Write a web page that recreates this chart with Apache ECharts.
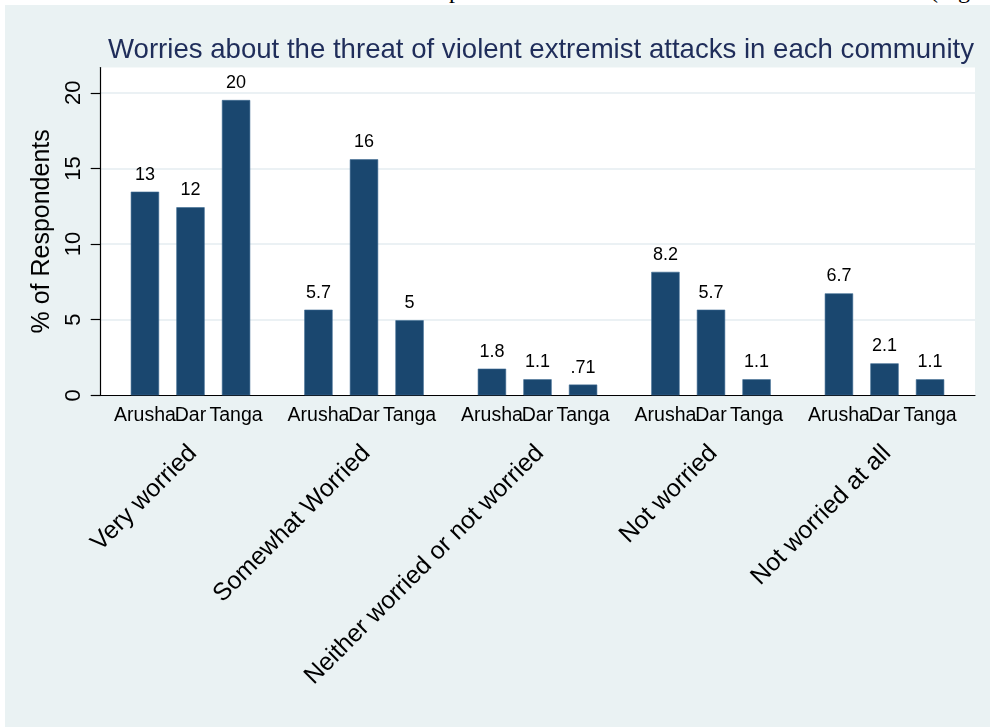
<!DOCTYPE html>
<html>
<head>
<meta charset="utf-8">
<script src="https://cdn.jsdelivr.net/npm/echarts@6/dist/echarts.min.js"></script>
<style>
  html, body { margin: 0; padding: 0; background: #ffffff; }
  #wrap { position: relative; width: 990px; height: 727px; overflow: hidden; background: #ffffff; }
  #bg { position: absolute; left: 5px; top: 5px; width: 985px; height: 722px; background: #EAF2F3; }
  #doc { position: absolute; left: 0; top: 0; width: 990px; height: 5px; overflow: hidden; font-family: "Liberation Serif", serif; font-size: 24px; color: #000; }
  #doc span { position: absolute; top: -23px; }
  #chart { position: absolute; left: 0; top: 0; width: 990px; height: 727px; }
</style>
</head>
<body>
<div id="wrap">
  <div id="bg"></div>
  <div id="doc"><span style="left:449px">p</span><span style="left:930px">(Fig</span></div>
  <div id="chart"></div>
</div>
<script>
// ---- data ----
const groups = ["Very worried", "Somewhat Worried", "Neither worried or not worried", "Not worried", "Not worried at all"];
const cities = ["Arusha", "Dar", "Tanga"];
const arusha = [13.46, 5.66, 1.76, 8.16, 6.74];
const dar    = [12.43, 15.6, 1.06, 5.66, 2.11];
const tanga  = [19.52, 4.96, 0.71, 1.06, 1.06];
const yTicks = [0, 5, 10, 15, 20];
const titleText = "Worries about the threat of violent extremist attacks in each community";
const yName = "% of Respondents";

const seriesValues = [arusha, dar, tanga];
const barColor = "#1A476F";
const FONT = "'Liberation Sans', Arial, Helvetica, sans-serif";
const yMax = 21.67;

function stataFmt(v) {
  let s = String(parseFloat(Number(v).toPrecision(2)));
  if (s.startsWith("0.")) s = s.slice(1);
  return s;
}

const chart = echarts.init(document.getElementById('chart'), null, { renderer: 'canvas' });

const BAR_W = 28.3;
const BAR_GAP = '61%';

const series = [];
cities.forEach((c, i) => {
  series.push({
    name: c, type: 'bar', xAxisIndex: 1, yAxisIndex: 1,
    data: seriesValues[i],
    barWidth: BAR_W, barGap: BAR_GAP,
    itemStyle: { color: barColor, borderColor: '#3d6a92', borderWidth: 0.6 },
    label: { show: true, position: 'top', distance: 8, fontFamily: FONT, fontSize: 18, color: '#000',
             formatter: p => stataFmt(p.value) },
    z: 3
  });
});
cities.forEach((c, i) => {
  series.push({
    name: c, type: 'bar', xAxisIndex: 2, yAxisIndex: 1,
    data: seriesValues[i],
    barWidth: BAR_W, barGap: BAR_GAP, silent: true,
    itemStyle: { color: 'rgba(0,0,0,0)' },
    label: { show: true, position: 'bottom', distance: 10, fontFamily: FONT, fontSize: 19.5, color: '#000',
             formatter: '{a}' },
    z: 4
  });
});

const option = {
  backgroundColor: 'transparent',
  animation: false,
  title: {
    text: titleText, left: 103, top: 31,
    textStyle: { fontFamily: FONT, fontSize: 27.6, fontWeight: 'normal', color: '#1f2d5a' }
  },
  grid: [
    { left: 100.7, right: 15, top: 67.5, bottom: 331.7, show: true, backgroundColor: '#ffffff', borderWidth: 0, containLabel: false },
    { left: 103.75, right: 18.75, top: 67.5, bottom: 331.7, containLabel: false }
  ],
  xAxis: [
    { gridIndex: 0, type: 'value', min: 0, max: 1,
      axisLine: { show: true, onZero: false, lineStyle: { color: '#000', width: 1.2 } },
      axisTick: { show: false }, axisLabel: { show: false }, splitLine: { show: false } },
    { gridIndex: 1, type: 'category', data: groups,
      axisLine: { show: false }, axisTick: { show: false }, splitLine: { show: false },
      axisLabel: { interval: 0, rotate: 45, margin: 39, verticalAlign: 'top', align: 'right',
                   padding: [0, 9, 0, 0],
                   fontFamily: FONT, fontSize: 24.8, color: '#000' } },
    { gridIndex: 1, type: 'category', data: groups, show: false }
  ],
  yAxis: [
    { gridIndex: 0, type: 'value', min: 0, max: yMax, interval: 5,
      name: yName, nameLocation: 'middle', nameGap: 36, nameRotate: 90,
      nameTextStyle: { fontFamily: FONT, fontSize: 25, color: '#000' },
      axisLine: { show: true, onZero: false, lineStyle: { color: '#000', width: 1.2 } },
      axisTick: { show: true, length: 10, customValues: yTicks, lineStyle: { color: '#000', width: 1.2 } },
      axisLabel: { rotate: 90, margin: 16, fontFamily: FONT, fontSize: 22, color: '#000', customValues: yTicks,
                   formatter: v => (yTicks.indexOf(v) >= 0 ? String(v) : '') },
      splitLine: { show: true, lineStyle: { color: '#E4EDF0', width: 1.5 } } },
    { gridIndex: 1, type: 'value', min: 0, max: yMax, show: false, splitLine: { show: false } }
  ],
  series: series
};
chart.setOption(option);
</script>
</body>
</html>
